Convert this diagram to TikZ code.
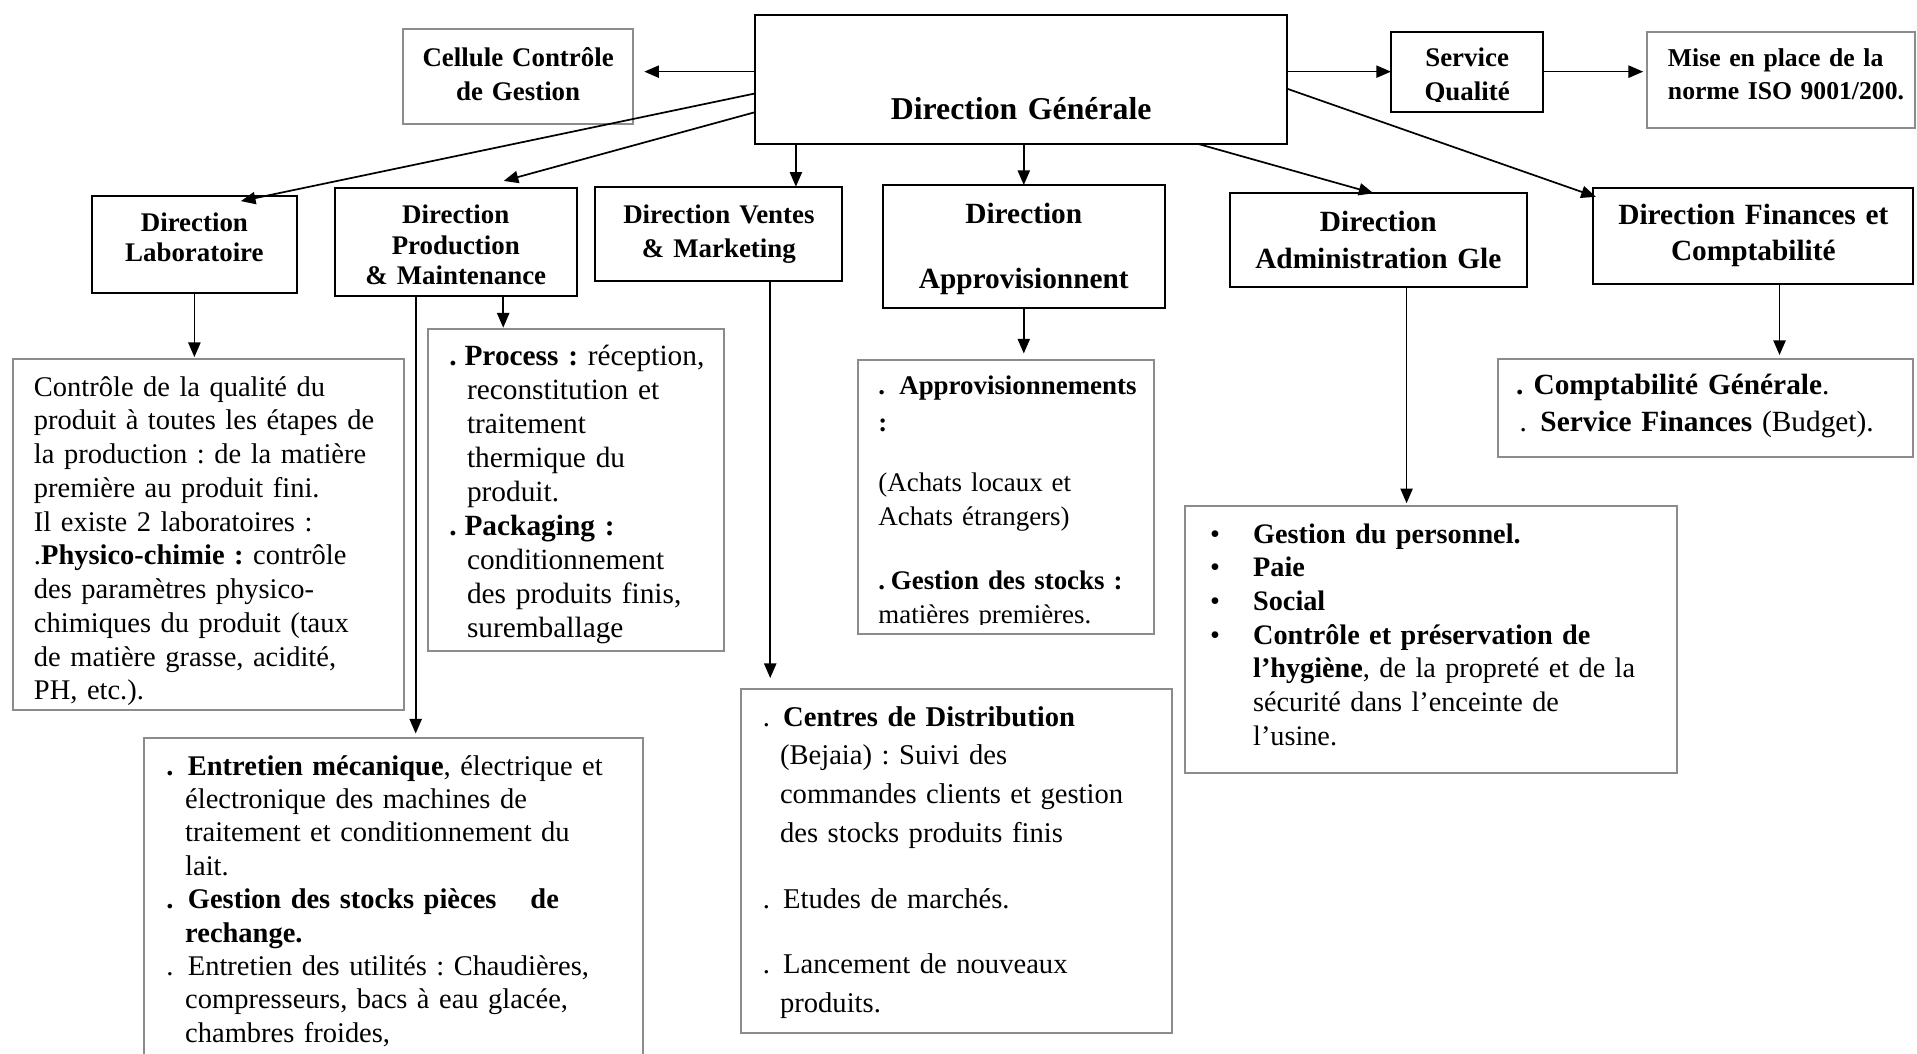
\documentclass[tikz,border=0pt]{standalone}
\usepackage{fontspec}
\setmainfont{Liberation Serif}
\usetikzlibrary{arrows.meta,positioning}
\frenchspacing

\newcommand{\pnt}[1]{\makebox[#1][l]{.}}
\newcommand{\blt}{\makebox[17.65pt][l]{\textbullet}}

\begin{document}
\begin{tikzpicture}
		[x=0.5pt, y=-0.5pt,
		every node/.style={inner sep=0pt, outer sep=0pt},
		hbox/.style 2 args={draw, line width=0.75pt, minimum width=#1, minimum height=#2},
		gbox/.style 2 args={draw=black!45, line width=0.8pt, minimum width=#1, minimum height=#2},
		head/.style n args={3}{font=\bfseries\fontsize{#1}{#2}\selectfont, anchor=base, align=center, text width=#3},
		body/.style n args={3}{font=\fontsize{#1}{#2}\selectfont, anchor=base west, align=left, text width=#3},
		conn/.style={line width=0.7pt, -{Triangle[length=6pt, width=5pt]}}
		]
		\useasboundingbox (0,0) rectangle (1568,862);
		% top row
		\node[hbox={217.75pt}{52.75pt}] (dg) at (835.25,65.05) {};
		\node[gbox={94.2pt}{38.75pt}] (cellule) at (423.8,62.75) {};
		\node[hbox={62.3pt}{32.7pt}] (sq) at (1200,58.6) {};
		\node[gbox={109.75pt}{39.25pt}] (mise) at (1456.75,65.15) {};
		% directions
		\node[hbox={84pt}{39.45pt}] (lab) at (159,199.95) {};
		\node[hbox={99.1pt}{44pt}] (prod) at (372.8,198) {};
		\node[hbox={101pt}{38.55pt}] (ventes) at (588,191.25) {};
		\node[hbox={115.4pt}{50.45pt}] (approv) at (837.4,201.75) {};
		\node[hbox={121.4pt}{38.2pt}] (admin) at (1127.4,196.3) {};
		\node[hbox={130.85pt}{39.3pt}] (fin) at (1434.15,193.3) {};
		% details
		\node[gbox={160pt}{143.65pt}] (labdet) at (170.8,437.35) {};
		\node[gbox={121.25pt}{131.55pt}] (procdet) at (471.25,400.95) {};
		\node[gbox={204pt}{133pt}] (entdet) at (322,737) {};
		\node[gbox={176.25pt}{140.4pt}] (ventdet) at (782.05,704.2) {};
		\node[gbox={121.05pt}{112.05pt}] (appdet) at (822.55,406.55) {};
		\node[gbox={201.5pt}{109pt}] (admdet) at (1170.5,523) {};
		\node[gbox={170pt}{39.95pt}] (findet) at (1395,333.55) {};

		% box texts
		\node[head={13}{15}{110pt}] (dgtxt) at (835.25,97.6) {Direction Générale};
		\node[head={11}{13.65}{84pt}] (celtxt) at (423.8,54.5) {Cellule Contrôle\\de Gestion};
		\begin{scope}
			\clip (1138,26) rectangle (1262,83);
			\node[head={11}{13.9}{50pt}] (sqtxt) at (1200,54) {Service\\Qualité};
		\end{scope}
		\node[head={10.5}{13.35}{104pt}, anchor=base west, align=left] (misetxt) at (1364.3,54.5) {Mise en place de la\\norme ISO 9001/200.};
		\node[head={11}{12.25}{76pt}] (labtxt) at (159,189.5) {Direction\\Laboratoire};
		\node[head={11}{12.3}{92pt}] (prodtxt) at (372.8,183.2) {Direction\\Production\\\& Maintenance};
		\node[head={11}{13.9}{94pt}] (ventxt) at (588,182.7) {Direction Ventes\\\& Marketing};
		\node[head={12}{13.4}{108pt}] (apptxt) at (837.4,182.7) {Direction\\[13.4pt]Approvisionnent};
		\node[head={12}{15.5}{114pt}] (admtxt) at (1127.4,189) {Direction\\Administration Gle};
		\node[head={12}{14.35}{124pt}] (fintxt) at (1434.15,184) {Direction Finances et\\Comptabilité};

		\node[body={11.65}{13.8}{145pt}] (labdtxt) at (27.8,324) {Contrôle de la qualité du\\produit à toutes les étapes de\\la production : de la matière\\première au produit fini.\\Il existe 2 laboratoires :\\.\textbf{Physico-chimie :} contrôle\\des paramètres physico-\\chimiques du produit (taux\\de matière grasse, acidité,\\PH, etc.).};
		\node[body={12}{13.95}{110pt}] (proctxt) at (367.5,298.6) {\textbf{\pnt{6.25pt}Process :} réception,\\\hspace*{7.25pt}reconstitution et\\\hspace*{7.25pt}traitement\\\hspace*{7.25pt}thermique du\\\hspace*{7.25pt}produit.\\\textbf{\pnt{6.25pt}Packaging :}\\\hspace*{7.25pt}conditionnement\\\hspace*{7.25pt}des produits finis,\\\hspace*{7.25pt}suremballage};
		\node[body={11.65}{13.65}{190pt}] (enttxt) at (136,634) {\textbf{\pnt{8.85pt}Entretien mécanique}, électrique et\\\hspace*{7.75pt}électronique des machines de\\\hspace*{7.75pt}traitement et conditionnement du\\\hspace*{7.75pt}lait.\\\textbf{\pnt{8.85pt}Gestion des stocks pièces\hspace{13.9pt}de}\\\hspace*{7.75pt}\textbf{rechange.}\\\pnt{8.85pt}Entretien des utilités : Chaudières,\\\hspace*{7.75pt}compresseurs, bacs à eau glacée,\\\hspace*{7.75pt}chambres froides,};
		\node[body={11.7}{15.8}{160pt}] (ventdtxt) at (624,594) {\pnt{8.3pt}\textbf{Centres de Distribution}\\\hspace*{7pt}(Bejaia) : Suivi des\\\hspace*{7pt}commandes clients et gestion\\\hspace*{7pt}des stocks produits finis\\[11.5pt]\pnt{8.3pt}Etudes de marchés.\\[10.7pt]\pnt{8.3pt}Lancement de nouveaux\\\hspace*{7pt}produits.};
		\begin{scope}
			\clip (702,295) rectangle (943,511);
			\node[body={11}{13.8}{110pt}] (appdtxt) at (718.5,322.3) {\textbf{\pnt{8.55pt}Approvisionnements}\\[1.55pt]\textbf{:}\\[10.7pt](Achats locaux et\\Achats étrangers)\\[12.5pt]\textbf{\pnt{5.1pt}Gestion des stocks :}\\matières premières.};
		\end{scope}
		\node[body={11.55}{13.75}{188pt}] (admdtxt) at (989.7,444.4) {\blt\textbf{Gestion du personnel.}\\\blt\textbf{Paie}\\\blt\textbf{Social}\\\blt\textbf{Contrôle et préservation de}\\\hspace*{17.65pt}\textbf{l’hygiène}, de la propreté et de la\\\hspace*{17.65pt}sécurité dans l’enceinte de\\\hspace*{17.65pt}l’usine.};
		\node[body={12}{15}{160pt}] (findtxt) at (1240,323) {\textbf{\pnt{7.2pt}Comptabilité Générale}.\\\hspace*{1.5pt}\pnt{8.5pt}\textbf{Service Finances} (Budget).};

		% from the general direction
		\draw[conn, shorten >=4.5pt] (dg.west |- sq) -- (cellule.east |- sq);
		\draw[conn] (dg.east |- sq) -- (sq.west);
		\draw[conn, shorten >=1.5pt] (sq.east) -- (mise.west |- sq);
		\draw[conn] (dg.183.4) -- ([xshift=19pt,yshift=-2pt]lab.north);
		\draw[conn] (dg.187.1) -- ([xshift=19.6pt,yshift=3pt]prod.north);
		\coordinate (vt) at ([xshift=31.5pt]ventes.north);
		\draw[conn] (vt |- dg.south) -- (vt);
		\draw[conn] (dg.south -| approv.north) -- (approv.north);
		\draw[conn] (dg.340) -- ([xshift=-2pt]admin.north);
		\draw[conn] (dg.358.3) -- ([xshift=1pt,yshift=-3.5pt]fin.north west);
		% down to the detail boxes
		\foreach \from/\dx/\to/\gap in {lab/0/labdet/0.8, prod/-16.4/entdet/2, prod/19.4/procdet/0.7, ventes/21/ventdet/4.6, approv/0/appdet/2.7, admin/11.55/admdet/1.2, fin/10.7/findet/1.6}
		{
			\coordinate (c) at ([xshift=\dx pt]\from.south);
			\draw[conn, shorten >=\gap pt] (c) -- (c |- \to.north);
		}
\end{tikzpicture}
\end{document}
